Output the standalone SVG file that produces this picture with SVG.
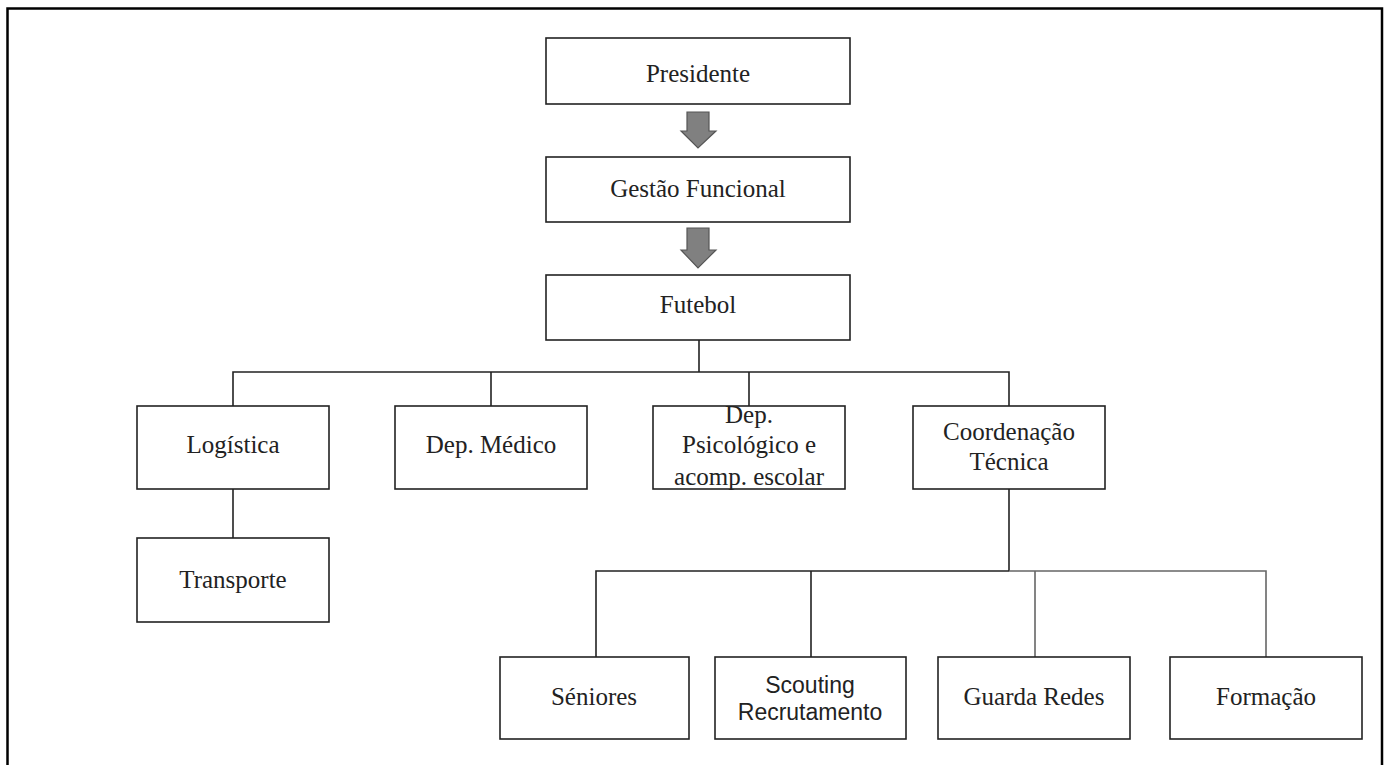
<svg xmlns="http://www.w3.org/2000/svg" width="1387" height="765" viewBox="0 0 1387 765">
<style>
.box{fill:#fff;stroke:#222;stroke-width:1.6}
.t{font-family:"Liberation Serif","Times New Roman",serif;font-size:25px;fill:#222;text-anchor:middle}
.s{font-family:"Liberation Sans",Arial,sans-serif;font-size:23px;fill:#222;text-anchor:middle}
.ln{fill:none;stroke:#222;stroke-width:1.6}
.lg{fill:none;stroke:#666;stroke-width:1.6}
.arr{fill:#808080;stroke:#555;stroke-width:1.2}
</style>
<rect x="0" y="0" width="1387" height="765" fill="#fff"/>
<rect x="7.5" y="8.5" width="1374.5" height="790" fill="none" stroke="#000" stroke-width="2.5"/>
<g id="connectors">
<path class="arr" d="M687,112 H709 V131 H716 L698,148 L681,131 H687 Z"/>
<path class="arr" d="M687,228 H709 V250 H716 L698,268 L681,250 H687 Z"/>
<path class="ln" d="M699,340 V372 M233,406 V372 H1009 V406 M491,372 V406 M749,372 V406"/>
<path class="ln" d="M233,489 V538"/>
<path class="ln" d="M1009,489 V571 M596,657 V571 H1009 M811,571 V657"/>
<path class="lg" d="M1009,571 H1266 V657 M1035,571 V657"/>
</g>
<g id="presidente"><rect class="box" x="546" y="38" width="304" height="66"/><text class="t" x="698" y="82">Presidente</text></g>
<g id="gestao"><rect class="box" x="546" y="157" width="304" height="65"/><text class="t" x="698" y="197">Gestão Funcional</text></g>
<g id="futebol"><rect class="box" x="546" y="275" width="304" height="65"/><text class="t" x="698" y="313">Futebol</text></g>
<g id="logistica"><rect class="box" x="137" y="406" width="192" height="83"/><text class="t" x="233" y="453">Logística</text></g>
<g id="medico"><rect class="box" x="395" y="406" width="192" height="83"/><text class="t" x="491" y="453">Dep. Médico</text></g>
<g id="psicologico"><rect class="box" x="653" y="406" width="192" height="83"/><text class="t" x="749" y="423">Dep.</text><text class="t" x="749" y="453">Psicológico e</text><text class="t" x="749" y="485">acomp. escolar</text></g>
<g id="coordenacao"><rect class="box" x="913" y="406" width="192" height="83"/><text class="t" x="1009" y="440">Coordenação</text><text class="t" x="1009" y="470">Técnica</text></g>
<g id="transporte"><rect class="box" x="137" y="538" width="192" height="84"/><text class="t" x="233" y="588">Transporte</text></g>
<g id="seniores"><rect class="box" x="500" y="657" width="189" height="82"/><text class="t" x="594" y="705">Séniores</text></g>
<g id="scouting"><rect class="box" x="715" y="657" width="191" height="82"/><text class="s" x="810" y="693">Scouting</text><text class="s" x="810" y="720">Recrutamento</text></g>
<g id="guarda"><rect class="box" x="938" y="657" width="192" height="82"/><text class="t" x="1034" y="705">Guarda Redes</text></g>
<g id="formacao"><rect class="box" x="1170" y="657" width="192" height="82"/><text class="t" x="1266" y="705">Formação</text></g>
</svg>
